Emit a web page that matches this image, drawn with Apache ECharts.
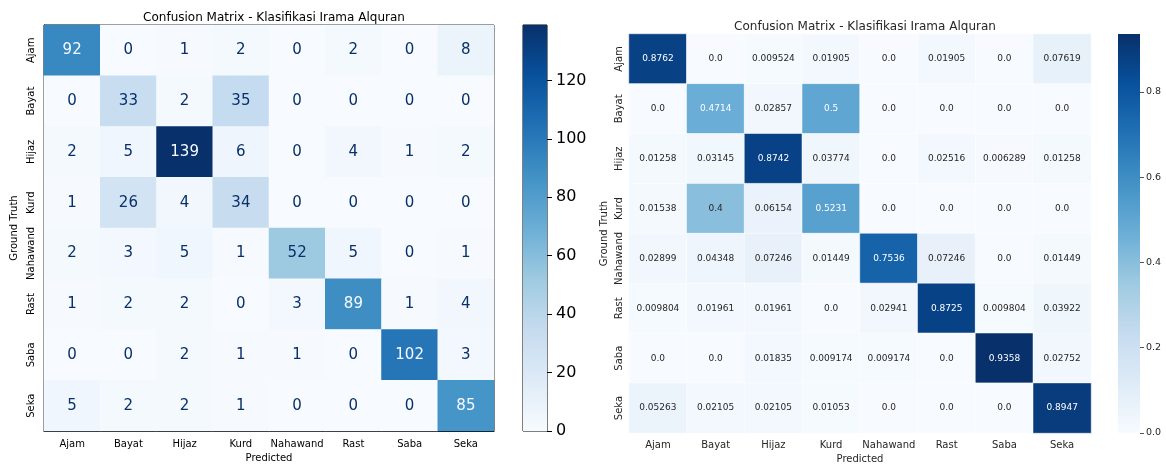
<!DOCTYPE html>
<html>
<head>
<meta charset="utf-8">
<script src="https://cdn.jsdelivr.net/npm/echarts@6/dist/echarts.min.js"></script>
<style>
  html, body { margin: 0; padding: 0; background: #fff; }
  #chart { width: 1166px; height: 464px; }
</style>
</head>
<body>
<div id="chart"></div>
<script>
// Class names (rows = ground truth, columns = predicted)
const classes = ['Ajam', 'Bayat', 'Hijaz', 'Kurd', 'Nahawand', 'Rast', 'Saba', 'Seka'];

// Raw counts
const countAjam     = [92, 0, 1, 2, 0, 2, 0, 8];
const countBayat    = [0, 33, 2, 35, 0, 0, 0, 0];
const countHijaz    = [2, 5, 139, 6, 0, 4, 1, 2];
const countKurd     = [1, 26, 4, 34, 0, 0, 0, 0];
const countNahawand = [2, 3, 5, 1, 52, 5, 0, 1];
const countRast     = [1, 2, 2, 0, 3, 89, 1, 4];
const countSaba     = [0, 0, 2, 1, 1, 0, 102, 3];
const countSeka     = [5, 2, 2, 1, 0, 0, 0, 85];

// Row-normalised rates
const rateAjam     = [0.8762, 0.0, 0.009524, 0.01905, 0.0, 0.01905, 0.0, 0.07619];
const rateBayat    = [0.0, 0.4714, 0.02857, 0.5, 0.0, 0.0, 0.0, 0.0];
const rateHijaz    = [0.01258, 0.03145, 0.8742, 0.03774, 0.0, 0.02516, 0.006289, 0.01258];
const rateKurd     = [0.01538, 0.4, 0.06154, 0.5231, 0.0, 0.0, 0.0, 0.0];
const rateNahawand = [0.02899, 0.04348, 0.07246, 0.01449, 0.7536, 0.07246, 0.0, 0.01449];
const rateRast     = [0.009804, 0.01961, 0.01961, 0.0, 0.02941, 0.8725, 0.009804, 0.03922];
const rateSaba     = [0.0, 0.0, 0.01835, 0.009174, 0.009174, 0.0, 0.9358, 0.02752];
const rateSeka     = [0.05263, 0.02105, 0.02105, 0.01053, 0.0, 0.0, 0.0, 0.8947];

// Colour bar ticks
const countTicks = [0, 20, 40, 60, 80, 100, 120];
const rateTicks = [0, 0.2, 0.4, 0.6, 0.8];

const countRows = [countAjam, countBayat, countHijaz, countKurd, countNahawand, countRast, countSaba, countSeka];
const rateRows = [rateAjam, rateBayat, rateHijaz, rateKurd, rateNahawand, rateRast, rateSaba, rateSeka];

const blues = ['#f7fbff', '#deebf7', '#c6dbef', '#9ecae1', '#6baed6', '#4292c6', '#2171b5', '#08519c', '#08306b'];
const FONT = 'DejaVu Sans';

const countMax = Math.max(...countRows.flat());
const rateMax = Math.max(...rateRows.flat());

function gradient() {
  return new echarts.graphic.LinearGradient(0, 1, 0, 0,
    blues.map((c, i) => ({ offset: i / (blues.length - 1), color: c })));
}

const countData = [];
countRows.forEach((row, r) => row.forEach((v, c) => {
  countData.push({
    value: [c, r, v],
    label: { color: v > countMax / 2 ? '#f7fbff' : '#08306b' }
  });
}));

const rateData = [];
rateRows.forEach((row, r) => row.forEach((v, c) => {
  rateData.push({
    value: [c, r, v],
    label: { color: v / rateMax > 0.46 ? '#ffffff' : '#262626' }
  });
}));

const L = { left: 44, top: 25, width: 450, height: 406 };
const R = { left: 629, top: 34, width: 462, height: 399 };

function catAxis(gridIndex, opts) {
  return Object.assign({
    type: 'category',
    gridIndex,
    data: classes,
    splitArea: { show: false },
    splitLine: { show: false },
    axisTick: { alignWithLabel: true, length: 5, lineStyle: { color: '#000' } },
    axisLine: { show: true, lineStyle: { color: '#000' } },
    axisLabel: { fontFamily: FONT, fontSize: 10, color: '#000', interval: 0, margin: 8 },
    nameTextStyle: { fontFamily: FONT, fontSize: 10, color: '#000' },
    nameLocation: 'middle'
  }, opts);
}

function grid(box, extra) {
  return Object.assign({ outerBoundsMode: 'none', containLabel: false }, box, extra || {});
}

const option = {
  animation: false,
  backgroundColor: '#fff',
  title: [
    { text: 'Confusion Matrix - Klasifikasi Irama Alquran', left: L.left + L.width / 2, top: 7, textAlign: 'center',
      textStyle: { fontFamily: FONT, fontSize: 12, fontWeight: 'normal', color: '#000' } },
    { text: 'Confusion Matrix - Klasifikasi Irama Alquran', left: R.left + R.width / 2, top: 16, textAlign: 'center',
      textStyle: { fontFamily: FONT, fontSize: 12, fontWeight: 'normal', color: '#262626' } }
  ],
  grid: [
    grid(L, { show: true, borderColor: '#000', borderWidth: 1 }),
    grid({ left: 523, top: L.top, width: 24, height: L.height }, { show: true, borderColor: '#000', borderWidth: 1 }),
    grid(R),
    grid({ left: 1118, top: R.top, width: 22, height: R.height })
  ],
  xAxis: [
    catAxis(0, { name: 'Predicted', nameGap: 22 }),
    { type: 'category', gridIndex: 1, data: ['bar'], show: false },
    catAxis(2, {
      name: 'Predicted', nameGap: 20,
      axisLine: { show: false },
      axisTick: { alignWithLabel: true, length: 4, lineStyle: { color: '#555' } },
      axisLabel: { fontFamily: FONT, fontSize: 10, color: '#262626', interval: 0, margin: 7 },
      nameTextStyle: { fontFamily: FONT, fontSize: 10, color: '#262626' }
    }),
    { type: 'category', gridIndex: 3, data: ['bar'], show: false }
  ],
  yAxis: [
    catAxis(0, { inverse: true, name: 'Ground Truth', nameGap: 25, nameRotate: 90,
      axisLabel: { fontFamily: FONT, fontSize: 10, color: '#000', rotate: 90, interval: 0, margin: 8 } }),
    { type: 'value', gridIndex: 1, position: 'right', min: 0, max: countMax,
      splitLine: { show: false },
      axisLine: { show: false },
      axisTick: { show: true, length: 5, customValues: countTicks, lineStyle: { color: '#000' } },
      axisLabel: { fontFamily: FONT, fontSize: 16, color: '#000', margin: 9, customValues: countTicks } },
    catAxis(2, { inverse: true, name: 'Ground Truth', nameGap: 20, nameRotate: 90,
      axisLine: { show: false },
      axisTick: { alignWithLabel: true, length: 4, lineStyle: { color: '#555' } },
      axisLabel: { fontFamily: FONT, fontSize: 10, color: '#262626', rotate: 90, interval: 0, margin: 5 },
      nameTextStyle: { fontFamily: FONT, fontSize: 10, color: '#262626' } }),
    { type: 'value', gridIndex: 3, position: 'right', min: 0, max: rateMax,
      splitLine: { show: false },
      axisLine: { show: false },
      axisTick: { show: true, length: 4, customValues: rateTicks, lineStyle: { color: '#555' } },
      axisLabel: { fontFamily: FONT, fontSize: 9.5, color: '#262626', margin: 6, customValues: rateTicks,
        formatter: v => v.toFixed(1) } }
  ],
  visualMap: [
    { type: 'continuous', show: false, seriesIndex: 0, min: 0, max: countMax, inRange: { color: blues } },
    { type: 'continuous', show: false, seriesIndex: 2, min: 0, max: rateMax, inRange: { color: blues } }
  ],
  series: [
    {
      type: 'heatmap', xAxisIndex: 0, yAxisIndex: 0, data: countData,
      label: { show: true, fontFamily: FONT, fontSize: 15 },
      itemStyle: { borderWidth: 0 }
    },
    {
      type: 'bar', xAxisIndex: 1, yAxisIndex: 1, data: [countMax], barWidth: '100%',
      itemStyle: { color: gradient() }, silent: true
    },
    {
      type: 'heatmap', xAxisIndex: 2, yAxisIndex: 2, data: rateData,
      label: { show: true, fontFamily: FONT, fontSize: 9, formatter: p => p.value[2] === 0 ? '0.0' : String(p.value[2]) },
      itemStyle: { borderWidth: 0.5, borderColor: '#ffffff' }
    },
    {
      type: 'bar', xAxisIndex: 3, yAxisIndex: 3, data: [rateMax], barWidth: '100%',
      itemStyle: { color: gradient() }, silent: true
    }
  ]
};

echarts.init(document.getElementById('chart'), null, { renderer: 'canvas' }).setOption(option);
</script>
</body>
</html>
